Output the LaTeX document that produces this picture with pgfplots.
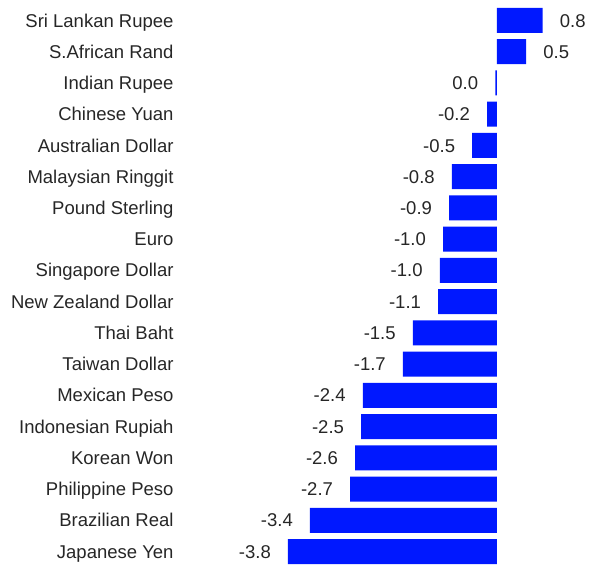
\documentclass[border=0pt]{standalone}
\usepackage{fontspec}
\setmainfont{Liberation Sans}
\usepackage{pgfplots}
\usepackage{pgfplotstable}
\pgfplotsset{compat=1.18}
\definecolor{barblue}{HTML}{0018FF}
\definecolor{txt}{HTML}{262626}
\pgfplotstableread[col sep=comma]{
idx,val,lab
0,0.83,0.8
1,0.53,0.5
2,-0.03,0.0
3,-0.18,-0.2
4,-0.45,-0.5
5,-0.82,-0.8
6,-0.87,-0.9
7,-0.98,-1.0
8,-1.04,-1.0
9,-1.07,-1.1
10,-1.53,-1.5
11,-1.71,-1.7
12,-2.44,-2.4
13,-2.47,-2.5
14,-2.58,-2.6
15,-2.67,-2.7
16,-3.40,-3.4
17,-3.80,-3.8
}\datatable
\newcommand\myanc{\ifdim\xval pt<0pt base east\else base west\fi}
\begin{document}
\fontsize{18.5}{22}\selectfont
\begin{tikzpicture}
\begin{axis}[
  scale only axis,
  width=409pt, height=565pt,
  xmin=-5.7636, xmax=1.673,
  ymin=-0.656, ymax=17.432,
  y dir=reverse,
  xbar, bar width=25pt,
  axis line style={draw=none},
  tick style={draw=none},
  xtick=\empty,
  ytick={0,...,17},
  yticklabels={Sri Lankan Rupee,S.African Rand,Indian Rupee,Chinese Yuan,Australian Dollar,Malaysian Ringgit,Pound Sterling,Euro,Singapore Dollar,New Zealand Dollar,Thai Baht,Taiwan Dollar,Mexican Peso,Indonesian Rupiah,Korean Won,Philippine Peso,Brazilian Real,Japanese Yen},
  yticklabel style={anchor=base east, inner sep=0pt, xshift=-2pt, yshift=-6.6pt, text=txt, font=\fontsize{18.5}{22}\selectfont},
  point meta=explicit symbolic,
  nodes near coords,
  visualization depends on={rawx \as \xval},
  every node near coord/.append style={anchor=\myanc, inner ysep=0pt, inner xsep=17pt, yshift=-6.6pt, text=txt, font=\fontsize{18.5}{22}\selectfont},
]
\addplot[fill=barblue, draw=none] table[x=val, y=idx, meta=lab] {\datatable};
\end{axis}
\pgfresetboundingbox
\useasboundingbox ([xshift=-180pt]current axis.south west) rectangle (current axis.north east);
\end{tikzpicture}
\end{document}
